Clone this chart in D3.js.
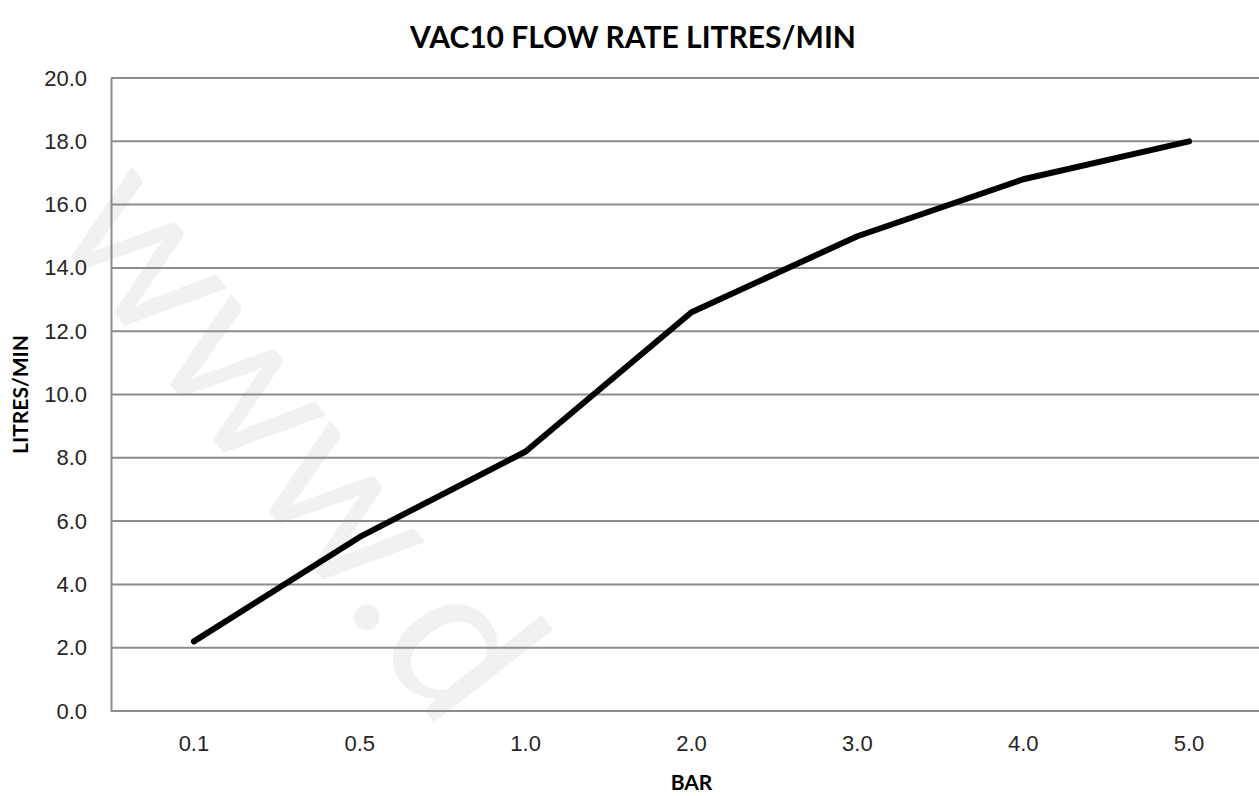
<!DOCTYPE html>
<html>
<head>
<meta charset="utf-8">
<script src="https://cdn.jsdelivr.net/npm/d3@7"></script>
<style>
  body { margin: 0; background: #fff; }
  svg { display: block; font-family: Lato, "Open Sans", sans-serif; }
</style>
</head>
<body>
<div id="chart"></div>
<script>
var categories = ["0.1", "0.5", "1.0", "2.0", "3.0", "4.0", "5.0"];
var flowValues = [2.2, 5.5, 8.2, 12.6, 15.0, 16.8, 18.0];
var yTicks = [0, 2, 4, 6, 8, 10, 12, 14, 16, 18, 20];

var width = 1259, height = 796;
var margin = {top: 78, right: -13, bottom: 85, left: 111};
var innerW = width - margin.left - margin.right,
    innerH = height - margin.top - margin.bottom;

var svg = d3.select("#chart").append("svg")
    .attr("width", width)
    .attr("height", height);

// faint watermark
svg.append("text")
    .attr("transform", "translate(48,228) rotate(52)")
    .attr("font-size", 205)
    .attr("font-family", "Lato, sans-serif")
    .attr("fill", "#f1f1f1")
    .text("www.d");

var x = d3.scaleBand()
    .domain(categories)
    .range([0, innerW]);

var y = d3.scaleLinear()
    .domain([0, 20])
    .range([innerH, 0]);

var g = svg.append("g")
    .attr("transform", "translate(" + margin.left + "," + margin.top + ")");

// grid lines
g.selectAll(".grid")
    .data(yTicks)
  .enter().append("line")
    .attr("class", "grid")
    .attr("x1", 0)
    .attr("x2", innerW)
    .attr("y1", function(d) { return y(d); })
    .attr("y2", function(d) { return y(d); })
    .attr("stroke", "#8c8c8c")
    .attr("stroke-width", 2);

// y axis
var yAxis = g.append("g")
    .call(d3.axisLeft(y).tickValues(yTicks).tickFormat(d3.format(".1f")).tickSize(0).tickPadding(24));
yAxis.select(".domain").attr("stroke", "#8c8c8c").attr("stroke-width", 2);
yAxis.selectAll("text").attr("font-size", 22).attr("fill", "#262626");

// x axis
var xAxis = g.append("g")
    .attr("transform", "translate(0," + innerH + ")")
    .call(d3.axisBottom(x).tickSize(0).tickPadding(24));
xAxis.select(".domain").remove();
xAxis.selectAll("text").attr("font-size", 22).attr("fill", "#262626");

// line
var line = d3.line()
    .x(function(d, i) { return x(categories[i]) + x.bandwidth() / 2; })
    .y(function(d) { return y(d); });

g.append("path")
    .datum(flowValues)
    .attr("fill", "none")
    .attr("stroke", "#000")
    .attr("stroke-width", 6)
    .attr("stroke-linecap", "round")
    .attr("stroke-linejoin", "round")
    .attr("d", line);

// title
svg.append("text")
    .attr("x", 633)
    .attr("y", 48)
    .attr("text-anchor", "middle")
    .attr("font-size", 30)
    .attr("font-weight", "bold")
    .attr("fill", "#000")
    .text("VAC10 FLOW RATE LITRES/MIN");

// axis titles
svg.append("text")
    .attr("x", margin.left + innerW / 2)
    .attr("y", 790)
    .attr("text-anchor", "middle")
    .attr("font-size", 21)
    .attr("font-weight", "bold")
    .text("BAR");

svg.append("text")
    .attr("transform", "translate(28," + (margin.top + innerH / 2) + ") rotate(-90)")
    .attr("text-anchor", "middle")
    .attr("font-size", 21)
    .attr("font-weight", "bold")
    .text("LITRES/MIN");
</script>
</body>
</html>
